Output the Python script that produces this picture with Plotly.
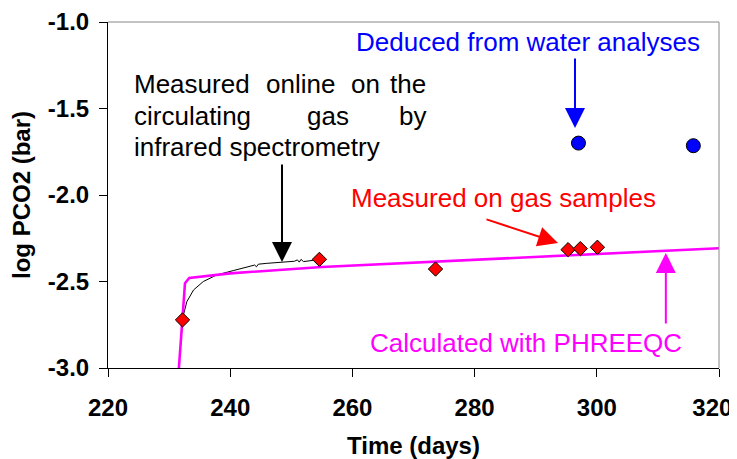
import plotly.graph_objects as go

# ---- data ----
water_x = [297.0, 315.8]
water_y = [-1.70, -1.715]

gas_x = [232.2, 254.6, 273.6, 295.3, 297.3, 300.1]
gas_y = [-2.722, -2.372, -2.428, -2.316, -2.310, -2.302]

online_x = [231.85, 232.0, 232.3, 232.9, 234.0, 235.6, 237.8, 240.5, 243.2, 244.0,
            244.3, 244.6, 246.0, 248.7, 250.5, 251.0, 251.3, 251.6, 252.0, 253.9]
online_y = [-2.88, -2.80, -2.70, -2.617, -2.549, -2.50, -2.462, -2.437, -2.414, -2.405,
            -2.415, -2.40, -2.395, -2.386, -2.383, -2.375, -2.388, -2.372, -2.385, -2.376]

calc_x = [231.6, 232.6, 233.3, 240.0, 255.0, 274.0, 295.0, 311.0, 320.0]
calc_y = [-3.0, -2.51, -2.48, -2.453, -2.416, -2.385, -2.35, -2.327, -2.308]

x_ticks = [220, 240, 260, 280, 300, 320]
x_ticklabels = ["220", "240", "260", "280", "300", "320\u00a0\u00a0"]
y_ticks = [-3.0, -2.5, -2.0, -1.5, -1.0]
y_ticklabels = ["-3.0", "-2.5", "-2.0", "-1.5", "-1.0"]

FONT = "Liberation Sans, Arial, sans-serif"

fig = go.Figure()
fig.add_trace(go.Scatter(x=online_x, y=online_y, mode="lines",
                         line=dict(color="black", width=1), showlegend=False))
fig.add_trace(go.Scatter(x=calc_x, y=calc_y, mode="lines",
                         line=dict(color="#FF00FF", width=2.6), showlegend=False))
fig.add_trace(go.Scatter(x=gas_x, y=gas_y, mode="markers",
                         marker=dict(symbol="diamond", size=11, color="#FF0000",
                                     line=dict(color="black", width=1)),
                         showlegend=False))
fig.add_trace(go.Scatter(x=water_x, y=water_y, mode="markers",
                         marker=dict(symbol="circle", size=14, color="#0000FF",
                                     line=dict(color="black", width=1)),
                         showlegend=False))

ann = []
# arrows (text empty, tail given in pixel offsets)
ann.append(dict(x=296.43, y=-1.613, ax=0, ay=-71, text="", showarrow=True,
                arrowhead=2, arrowsize=2, arrowwidth=2, arrowcolor="#0000FF"))
ann.append(dict(x=248.48, y=-2.387, ax=0, ay=-99, text="", showarrow=True,
                arrowhead=2, arrowsize=2, arrowwidth=2, arrowcolor="black"))
ann.append(dict(x=293.65, y=-2.277, ax=-73, ay=-24, text="", showarrow=True,
                arrowhead=2, arrowsize=2, arrowwidth=2, arrowcolor="#FF0000"))
ann.append(dict(x=311.3, y=-2.335, ax=0, ay=72, text="", showarrow=True,
                arrowhead=2, arrowsize=2, arrowwidth=2, arrowcolor="#FF00FF"))

def px2x(p):
    return 220 + (p - 108) / 6.11

def py2y(p):
    return -1 - (p - 22) / 173.0

def label(text, px, py, color, anchor="left", size=26):
    ann.append(dict(x=px2x(px), y=py2y(py), text=text, showarrow=False,
                    xanchor=anchor, yanchor="middle",
                    font=dict(family=FONT, size=size, color=color)))

label("Deduced from water analyses", 528, 42, "#0000FF", "center")
label("Measured on gas samples", 658, 198, "#FF0000", "right")
label("Calculated with PHREEQC", 526, 343, "#FF00FF", "center")

# justified black text block
label("Measured", 132, 84, "black")
label("online", 264, 84, "black")
label("on", 349, 84, "black")
label("the", 428, 84, "black", "right")
label("circulating", 132, 116, "black")
label("gas", 305, 116, "black")
label("by", 428, 116, "black", "right")
label("infrared spectrometry", 132, 147, "black")

# x-axis title as a paper annotation (placed below the tick labels)
ann.append(dict(xref="paper", yref="paper", x=0.5, y=-0.2254, text="Time (days)",
                showarrow=False, xanchor="center", yanchor="middle",
                font=dict(family=FONT, size=24, color="black", weight="bold")))

# page body has an 8px default margin, so the figure is sized/offset to compensate
fig.update_layout(
    width=729, height=451,
    margin=dict(l=100, r=18, t=14, b=91, autoexpand=False),
    paper_bgcolor="white", plot_bgcolor="white",
    font=dict(family=FONT, color="black"),
    annotations=ann,
    shapes=[
        dict(type="line", xref="x domain", yref="y domain", x0=0, x1=1, y0=1, y1=1,
             line=dict(color="#888888", width=1)),
        dict(type="line", xref="x domain", yref="y domain", x0=1, x1=1, y0=0, y1=1,
             line=dict(color="#888888", width=1)),
    ],
    xaxis=dict(range=[220, 320], tickvals=x_ticks, ticktext=x_ticklabels,
               automargin=False, ticklabeloverflow="allow",
               showline=True, linecolor="black", linewidth=1, ticks="outside",
               ticklen=8, tickcolor="black", showgrid=False, zeroline=False,
               ticklabelstandoff=10,
               tickfont=dict(family=FONT, size=24, color="black", weight="bold")),
    yaxis=dict(range=[-3, -1], tickvals=y_ticks, ticktext=y_ticklabels,
               automargin=False, ticklabeloverflow="allow",
               showline=True, linecolor="black", linewidth=1, ticks="outside",
               ticklen=8, tickcolor="black", showgrid=False, zeroline=False,
               ticklabelstandoff=5,
               tickfont=dict(family=FONT, size=24, color="black", weight="bold"),
               title=dict(text="log PCO2 (bar)", standoff=16,
                          font=dict(family=FONT, size=24, color="black", weight="bold"))),
)

fig.write_html("out.html")
